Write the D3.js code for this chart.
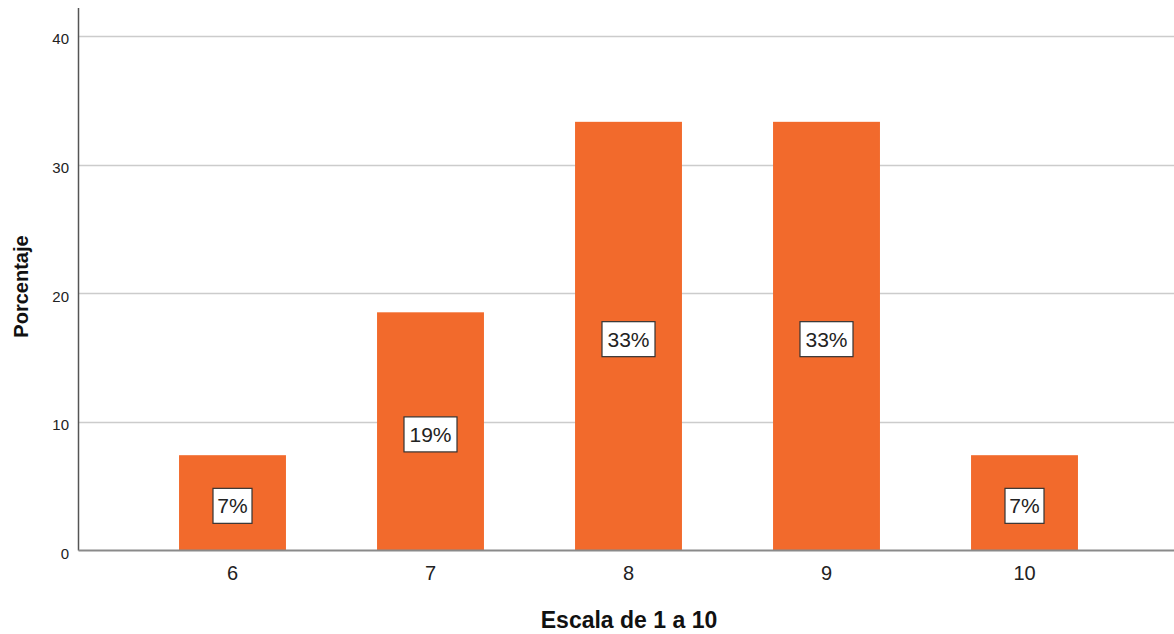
<!DOCTYPE html>
<html><head><meta charset="utf-8">
<script src="https://cdn.jsdelivr.net/npm/d3@7"></script>
<style>body{margin:0;background:#fff}svg{display:block}</style>
</head><body>
<svg id="c" width="1174" height="634"></svg>
<script>
const categories = ["6","7","8","9","10"];
const values = [7.41, 18.52, 33.33, 33.33, 7.41];
const labels = ["7%","19%","33%","33%","7%"];
const yTicks = [0,10,20,30,40];

(function(){
const svg = d3.select("#c");
const font = "'Liberation Sans', Arial, sans-serif";
const pLeft = 78.5, pRight = 1174, pTop = 8, pBottom = 550.5;

const y = d3.scaleLinear().domain([0, 42.18]).range([pBottom, pTop]);
const x = d3.scaleBand().domain(categories).range([133.5, 1123.5]).paddingInner(0.46).paddingOuter(0.23);

// gridlines
svg.append("g").selectAll("line").data(yTicks.filter(d=>d>0)).join("line")
  .attr("x1", pLeft).attr("x2", pRight)
  .attr("y1", d=>Math.round(y(d))+0.5).attr("y2", d=>Math.round(y(d))+0.5)
  .attr("stroke", "#cccccc").attr("stroke-width", 1.5);

// bars
svg.append("g").selectAll("rect").data(values).join("rect")
  .attr("x", (d,i)=>x(categories[i])).attr("width", x.bandwidth())
  .attr("y", d=>y(d)).attr("height", d=>pBottom - y(d))
  .attr("fill", "#f26a2c");

// y axis
const yAxis = d3.axisLeft(y).tickValues(yTicks).tickSize(0).tickPadding(9.5);
const gy = svg.append("g").attr("transform", `translate(${pLeft},0)`).call(yAxis);
gy.select(".domain").remove();
gy.selectAll(".tick text").attr("font-family", font).attr("font-size", 15).attr("fill", "#222").attr("dy", "0.53em");
svg.append("line").attr("x1", pLeft).attr("x2", pLeft).attr("y1", pTop).attr("y2", pBottom)
  .attr("stroke", "#555").attr("stroke-width", 1.5);

// x axis
const xAxis = d3.axisBottom(x).tickSize(0).tickPadding(15.3);
const gx = svg.append("g").attr("transform", `translate(0,${pBottom})`).call(xAxis);
gx.select(".domain").remove();
gx.selectAll(".tick text").attr("font-family", font).attr("font-size", 20).attr("fill", "#222");
svg.append("line").attr("x1", pLeft).attr("x2", pRight).attr("y1", pBottom).attr("y2", pBottom)
  .attr("stroke", "#8a8a8a").attr("stroke-width", 2);

// value labels
const lg = svg.append("g").selectAll("g").data(values).join("g")
  .attr("transform", (d,i)=>`translate(${x(categories[i]) + x.bandwidth()/2},${(y(d)+pBottom)/2 + 3})`);
lg.append("rect")
  .attr("x", (d,i)=> labels[i].length===2 ? -19.5 : -26.5)
  .attr("width", (d,i)=> labels[i].length===2 ? 39 : 53)
  .attr("y", -17.5).attr("height", 35)
  .attr("fill", "#fff").attr("stroke", "#333").attr("stroke-width", 1.2);
lg.append("text").text((d,i)=>labels[i])
  .attr("text-anchor", "middle").attr("dy", "0.36em")
  .attr("font-family", font).attr("font-size", 21).attr("fill", "#222");

// titles
svg.append("text").text("Escala de 1 a 10")
  .attr("x", 629).attr("y", 628).attr("text-anchor", "middle")
  .attr("font-family", font).attr("font-weight", "bold").attr("font-size", 23).attr("fill", "#111");
svg.append("text").text("Porcentaje")
  .attr("transform", "translate(28,286.5) rotate(-90)").attr("text-anchor", "middle")
  .attr("font-family", font).attr("font-weight", "bold").attr("font-size", 20).attr("fill", "#111");
})();
</script>
</body></html>
